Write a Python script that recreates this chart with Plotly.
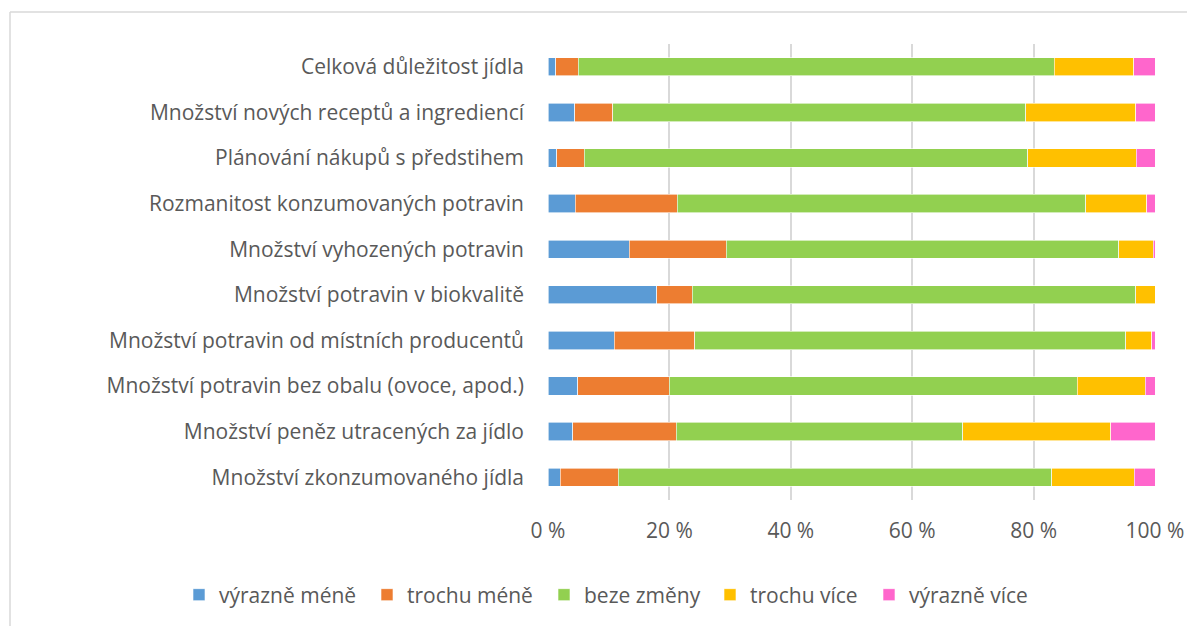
import plotly.graph_objects as go

categories = [
    "Celková důležitost jídla",
    "Množství nových receptů a ingrediencí",
    "Plánování nákupů s předstihem",
    "Rozmanitost konzumovaných potravin",
    "Množství vyhozených potravin",
    "Množství potravin v biokvalitě",
    "Množství potravin od místních producentů",
    "Množství potravin bez obalu (ovoce, apod.)",
    "Množství peněz utracených za jídlo",
    "Množství zkonzumovaného jídla",
]

vyrazne_mene = [1.3, 4.4, 1.4, 4.5, 13.4, 17.9, 10.9, 4.9, 4.1, 2.0]
trochu_mene = [3.7, 6.3, 4.6, 16.8, 16.0, 5.9, 13.3, 15.1, 17.0, 9.6]
beze_zmeny = [78.4, 68.0, 73.0, 67.3, 64.6, 73.0, 71.0, 67.2, 47.2, 71.4]
trochu_vice = [13.1, 18.1, 17.9, 10.0, 5.7, 3.2, 4.3, 11.2, 24.4, 13.6]
vyrazne_vice = [3.5, 3.2, 3.1, 1.4, 0.3, 0.0, 0.5, 1.6, 7.3, 3.4]

series_names = ["výrazně méně", "trochu méně", "beze změny", "trochu více", "výrazně více"]
series_values = [vyrazne_mene, trochu_mene, beze_zmeny, trochu_vice, vyrazne_vice]
series_colors = ["#5B9BD5", "#ED7D31", "#92D050", "#FFC000", "#FF66CC"]

tick_vals = [0, 20, 40, 60, 80, 100]
tick_text = ["0 %", "20 %", "40 %", "60 %", "80 %", "100 %"]

FONT = "Open Sans"
TXT = "#595959"
FS = 21

W, H = 1187, 626
L, R, T, B = 548, 1187 - 1155, 44, 626 - 500
pw, ph = W - L - R, H - T - B


def px_x(p):
    return (p - L) / pw


def px_y(p):
    return (H - B - p) / ph


# legend symbol centres in pixels (layout only)
legend_centres = [203, 391, 568, 734, 893]
legend_ids = ["legend", "legend2", "legend3", "legend4", "legend5"]
SYM_OFFSET = 19

fig = go.Figure()
for name, vals, col, lid in zip(series_names, series_values, series_colors, legend_ids):
    fig.add_trace(go.Bar(
        y=categories, x=vals, name=name, orientation="h", legend=lid,
        marker=dict(color=col, line=dict(color="white", width=0.6)),
    ))

legend_layout = {}
for lid, cx in zip(legend_ids, legend_centres):
    legend_layout[lid] = dict(
        orientation="h", xref="container", yref="container",
        x=(cx - 5 - SYM_OFFSET) / W, xanchor="left",
        y=1 - 595 / H, yanchor="middle",
        font=dict(size=FS, color=TXT), itemwidth=30,
        bgcolor="rgba(0,0,0,0)", borderwidth=0,
    )

border = dict(color="#D9D9D9", width=1.5)

fig.update_layout(
    width=W, height=H,
    showlegend=True,
    barmode="stack", bargap=0.6,
    margin=dict(l=L, r=R, t=T, b=B, autoexpand=False),
    paper_bgcolor="white", plot_bgcolor="white",
    font=dict(family=FONT, size=FS, color=TXT),
    xaxis=dict(
        range=[0, 100], tickmode="array", tickvals=tick_vals, ticktext=tick_text,
        showgrid=True, gridcolor="#D9D9D9", gridwidth=2,
        zeroline=False, showline=False, ticks="",
        ticklabelstandoff=16, ticklabeloverflow="allow",
        tickfont=dict(size=FS, color=TXT),
    ),
    yaxis=dict(
        autorange="reversed", showgrid=False, ticks="",
        showline=False, ticklabelstandoff=23,
        tickfont=dict(size=FS, color=TXT),
    ),
    shapes=[
        dict(type="line", xref="paper", yref="paper",
             x0=px_x(10), x1=px_x(1187), y0=px_y(12), y1=px_y(12),
             line=border, layer="below"),
        dict(type="line", xref="paper", yref="paper",
             x0=px_x(10), x1=px_x(10), y0=px_y(12), y1=px_y(626),
             line=border, layer="below"),
    ],
    **legend_layout,
)

fig.write_html(
    "out.html",
    config={"displayModeBar": False},
    post_script="document.body.style.margin='0';document.body.style.overflow='hidden';",
)
